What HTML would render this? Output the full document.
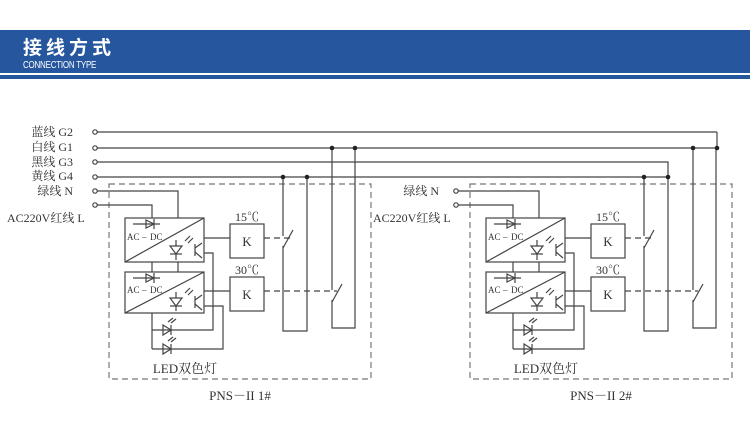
<!DOCTYPE html>
<html><head><meta charset="utf-8"><style>
body{margin:0;background:#fff;width:750px;height:438px;overflow:hidden;position:relative;font-family:"Liberation Serif","Noto Serif CJK SC",serif}
.bar{position:absolute;left:0;top:30px;width:750px;height:43px;background:#25569e}
.bar2{position:absolute;left:0;top:75px;width:750px;height:4px;background:#25569e}
.t1{position:absolute;left:23px;top:33px;color:#fff;font:bold 19px "Noto Sans CJK SC",sans-serif;letter-spacing:4px}
.t2{position:absolute;left:23px;top:60px;color:#fff;font:10px "Liberation Sans",sans-serif;transform:scaleX(.8);transform-origin:left;letter-spacing:-0.3px}
svg{position:absolute;left:0;top:0}
text{font-family:"Liberation Serif","Noto Serif CJK SC",serif;fill:#333}
</style></head><body>
<div class="bar"></div><div class="bar2"></div>
<div class="t1">接线方式</div><div class="t2">CONNECTION TYPE</div>
<svg width="750" height="438" viewBox="0 0 750 438">
<defs>
<g id="unit" stroke="#444" stroke-width="1.2" fill="none">
 <rect x="109" y="184" width="262" height="195" stroke-dasharray="6,4" stroke="#777"/>
 <circle cx="95" cy="191" r="2.2" fill="#fff"/><circle cx="95" cy="205" r="2.2" fill="#fff"/>
 <polyline points="97,191 178,191 178,218"/>
 <polyline points="97,205 152,205 152,218"/>
 <rect x="125" y="218" width="79" height="44"/>
 <rect x="125" y="272" width="79" height="41"/>
 <line x1="125" y1="262" x2="204" y2="218"/>
 <line x1="125" y1="313" x2="204" y2="272"/>
 <line x1="152" y1="262" x2="152" y2="272"/><line x1="178" y1="262" x2="178" y2="272"/>
 <line x1="133" y1="224" x2="160" y2="224"/><path d="M146,220 L154,224 L146,228Z"/><line x1="154" y1="219" x2="154" y2="229"/>
 <line x1="133" y1="278" x2="160" y2="278"/><path d="M146,274 L154,278 L146,282Z"/><line x1="154" y1="273" x2="154" y2="283"/>
 <path d="M170,246 L182,246 L176,254Z"/><line x1="170" y1="254" x2="182" y2="254"/><line x1="176" y1="254" x2="176" y2="260"/><line x1="176" y1="240" x2="176" y2="246"/>
 <line x1="185" y1="241" x2="190" y2="236"/><line x1="188" y1="243" x2="193" y2="238"/>
 <line x1="195" y1="244" x2="195" y2="256"/><line x1="195" y1="248" x2="202" y2="243"/><line x1="195" y1="252" x2="202" y2="258"/>
 <path d="M170,298 L182,298 L176,306Z"/><line x1="170" y1="306" x2="182" y2="306"/><line x1="176" y1="306" x2="176" y2="311"/><line x1="176" y1="292" x2="176" y2="298"/>
 <line x1="185" y1="293" x2="190" y2="288"/><line x1="188" y1="295" x2="193" y2="290"/>
 <line x1="195" y1="296" x2="195" y2="308"/><line x1="195" y1="300" x2="202" y2="295"/><line x1="195" y1="304" x2="202" y2="310"/>
 <line x1="204" y1="238" x2="230" y2="238"/><line x1="204" y1="291" x2="230" y2="291"/>
 <rect x="230" y="224" width="34" height="34"/><rect x="230" y="277" width="34" height="34"/>
 <line x1="264" y1="238" x2="292" y2="238" stroke-dasharray="6,4"/>
 <line x1="264" y1="291" x2="337" y2="291" stroke-dasharray="6,4"/>
 <polyline points="204,253 213,253 213,330 152,330"/>
 <polyline points="204,306 223,306 223,349 152,349"/>
 <polyline points="152,313 152,349"/>
 <path d="M163,325 L171,330 L163,335Z"/><line x1="171" y1="325" x2="171" y2="335"/>
 <line x1="168" y1="322" x2="173" y2="318"/><line x1="171" y1="323" x2="176" y2="319"/>
 <path d="M163,344 L171,349 L163,354Z"/><line x1="171" y1="344" x2="171" y2="354"/>
 <line x1="168" y1="341" x2="173" y2="337"/><line x1="171" y1="342" x2="176" y2="338"/>
 <polyline points="283,177 283,236"/><line x1="283" y1="248" x2="293" y2="230"/><polyline points="283,246 283,331 307,331 307,177"/>
 <polyline points="332,148 332,290"/><line x1="332" y1="302" x2="342" y2="284"/><polyline points="332,300 332,328 355,328 355,148"/>
</g>
</defs>
<g stroke="#444" stroke-width="1.2" fill="none">
 <circle cx="95" cy="132" r="2.2"/><circle cx="95" cy="148" r="2.2"/><circle cx="95" cy="162" r="2.2"/><circle cx="95" cy="177" r="2.2"/>
 <line x1="97" y1="132" x2="717" y2="132"/>
 <line x1="97" y1="148" x2="717" y2="148"/>
 <polyline points="97,162 668,162 668,177"/>
 <line x1="97" y1="177" x2="668" y2="177"/>
 <line x1="717" y1="132" x2="717" y2="148"/>
</g>
<use href="#unit"/>
<use href="#unit" transform="translate(361,0)"/>
<g fill="#222">
 <circle cx="283" cy="177" r="2.3"/><circle cx="307" cy="177" r="2.3"/><circle cx="332" cy="148" r="2.3"/><circle cx="355" cy="148" r="2.3"/>
 <circle cx="644" cy="177" r="2.3"/><circle cx="668" cy="177" r="2.3"/><circle cx="693" cy="148" r="2.3"/><circle cx="717" cy="148" r="2.3"/>
</g>
<g font-size="12">
 <text x="73" y="136" text-anchor="end">蓝线 G2</text>
 <text x="73" y="151" text-anchor="end">白线 G1</text>
 <text x="73" y="166" text-anchor="end">黑线 G3</text>
 <text x="73" y="180" text-anchor="end">黄线 G4</text>
 <text x="73" y="195" text-anchor="end">绿线 N</text>
 <text x="7" y="222">AC220V红线 L</text>
 <text x="439" y="195" text-anchor="end">绿线 N</text>
 <text x="373" y="222">AC220V红线 L</text>
 <text x="247" y="221" text-anchor="middle">15℃</text><text x="247" y="274" text-anchor="middle">30℃</text>
 <text x="608" y="221" text-anchor="middle">15℃</text><text x="608" y="274" text-anchor="middle">30℃</text>
 <text x="247" y="246" text-anchor="middle" font-size="13">K</text><text x="247" y="299" text-anchor="middle" font-size="13">K</text>
 <text x="608" y="246" text-anchor="middle" font-size="13">K</text><text x="608" y="299" text-anchor="middle" font-size="13">K</text>
 <text x="185" y="373" text-anchor="middle" font-size="13">LED双色灯</text>
 <text x="546" y="373" text-anchor="middle" font-size="13">LED双色灯</text>
 <text x="240" y="400" text-anchor="middle" font-size="13">PNS－II  1#</text>
 <text x="601" y="400" text-anchor="middle" font-size="13">PNS－II  2#</text>
</g>
<g font-size="9">
 <text x="127" y="240">AC</text><text x="142" y="240">–</text><text x="150" y="240">DC</text>
 <text x="127" y="293">AC</text><text x="142" y="293">–</text><text x="150" y="293">DC</text>
 <text x="488" y="240">AC</text><text x="503" y="240">–</text><text x="511" y="240">DC</text>
 <text x="488" y="293">AC</text><text x="503" y="293">–</text><text x="511" y="293">DC</text>
</g>
</svg>
</body></html>
